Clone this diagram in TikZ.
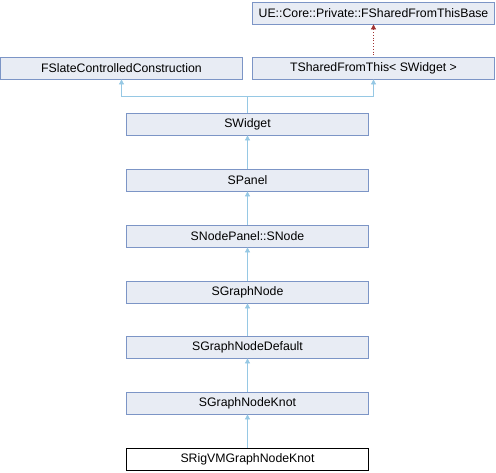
\documentclass[tikz,border=0pt]{standalone}
\usepackage{fontspec}
\setmainfont{Liberation Sans}
\definecolor{BoxFill}{RGB}{232, 236, 244}
\definecolor{BoxLine}{RGB}{124, 149, 198}
\definecolor{EdgeBlue}{RGB}{150, 200, 228}
\definecolor{EdgeRed}{RGB}{160, 50, 50}
\usetikzlibrary{arrows.meta, positioning}

\begin{document}
\begin{tikzpicture}[
    x=1pt, y=-1pt,
    every node/.style={font=\fontsize{12.3}{14}\selectfont},
    cls/.style={draw=BoxLine, fill=BoxFill, line width=0.8pt, minimum width=242pt, minimum height=22pt, inner sep=0pt},
    this/.style={draw=black, fill=white, line width=0.8pt, minimum width=242pt, minimum height=22pt, inner sep=0pt},
    inh/.style={{Triangle[length=5pt, width=5pt]}-, EdgeBlue, line width=0.8pt},
    tmpl/.style={{Triangle[length=5pt, width=5pt]}-, EdgeRed, line width=0.8pt, dotted}
]
\useasboundingbox (0,0) rectangle (496,472);
\node[cls] (base) at (373.5,13) {UE::Core::Private::FSharedFromThisBase};
\node[cls] (fscc) at (121.5,68) {FSlateControlledConstruction};
\node[cls] (tsft) at (373.5,68) {TSharedFromThis< SWidget >};
\node[cls] (swidget) at (247.5,124) {SWidget};
\node[cls] (spanel) at (247.5,180) {SPanel};
\node[cls] (snode) at (247.5,236) {SNodePanel::SNode};
\node[cls] (sgn) at (247.5,292) {SGraphNode};
\node[cls] (sgnd) at (247.5,347) {SGraphNodeDefault};
\node[cls] (sgnk) at (247.5,403) {SGraphNodeKnot};
\node[this] (srig) at (247.5,459) {SRigVMGraphNodeKnot};
\coordinate (join) at (247.5,96);
% inheritance edges
\draw[tmpl] (base.south) -- (tsft.north);
\draw[inh] (fscc.south) |- (join) -- (swidget.north);
\draw[inh] (tsft.south) |- (join);
\draw[inh] (swidget) -- (spanel);
\draw[inh] (spanel) -- (snode);
\draw[inh] (snode) -- (sgn);
\draw[inh] (sgn) -- (sgnd);
\draw[inh] (sgnd) -- (sgnk);
\draw[inh] (sgnk) -- (srig);
\end{tikzpicture}
\end{document}
